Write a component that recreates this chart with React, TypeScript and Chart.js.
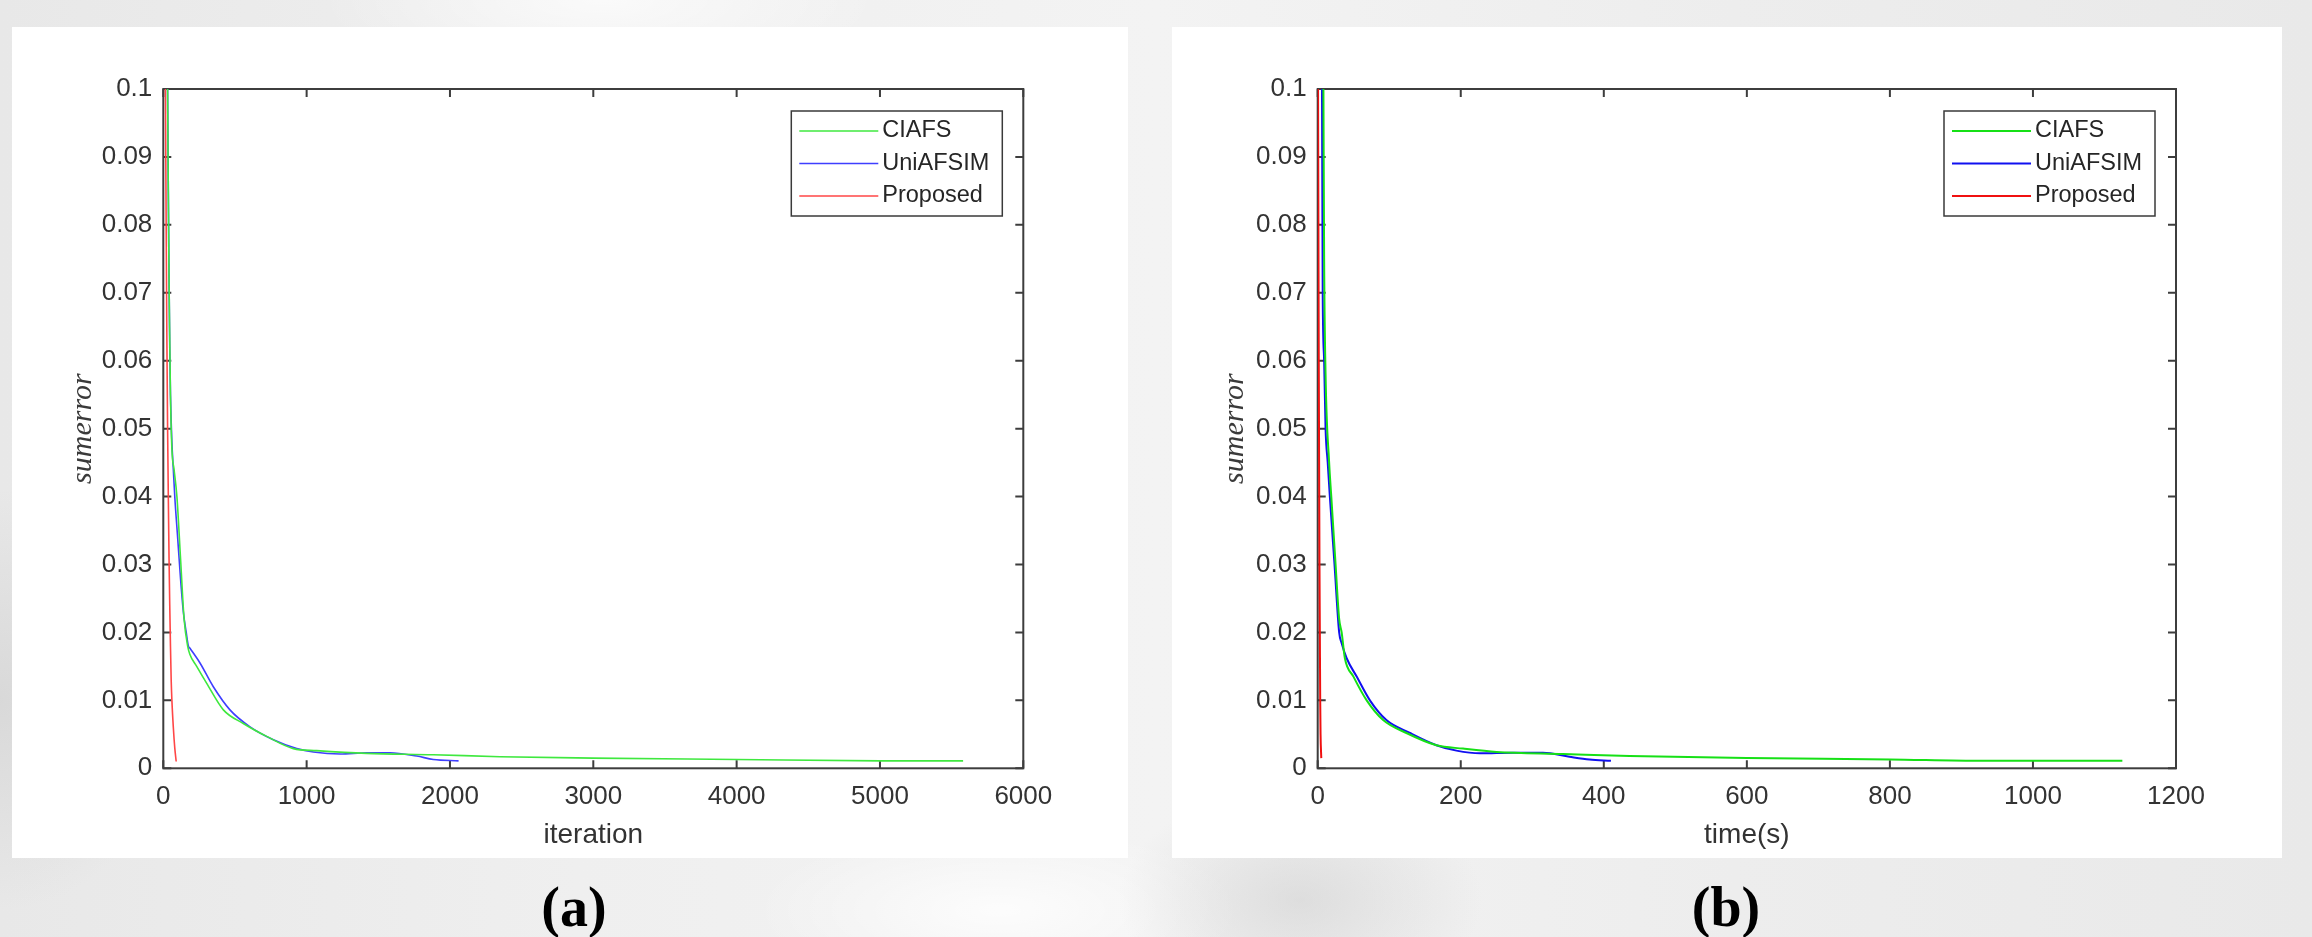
import React, { useEffect, useRef } from 'react';
import { Chart, registerables } from 'chart.js';
Chart.register(...registerables);

// ---------- Panel (a): sum error vs. iteration ----------
const ciafsIterA = [30, 35, 40, 45, 50, 60, 75, 95, 120, 145, 170, 185, 233, 303, 419, 558, 721, 907, 1070, 1419, 1884, 2349, 3000, 4000, 5000, 5580];
const ciafsErrA = [0.1, 0.085, 0.072, 0.063, 0.055, 0.047, 0.044, 0.04, 0.031, 0.022, 0.018, 0.0168, 0.015, 0.0125, 0.0086, 0.0066, 0.0047, 0.0029, 0.0026, 0.0022, 0.002, 0.0017, 0.0015, 0.0013, 0.0011, 0.0011];
const uniIterA = [30, 35, 40, 45, 50, 60, 70, 80, 100, 120, 140, 160, 175, 185, 256, 349, 465, 605, 768, 931, 1047, 1233, 1419, 1582, 1768, 1884, 2060];
const uniErrA = [0.1, 0.085, 0.072, 0.062, 0.055, 0.048, 0.044, 0.04, 0.034, 0.028, 0.023, 0.02, 0.018, 0.0177, 0.0155, 0.012, 0.0086, 0.0061, 0.0042, 0.0029, 0.0024, 0.0021, 0.0023, 0.0023, 0.0018, 0.0013, 0.0011];
const propIterA = [15, 20, 25, 30, 35, 40, 45, 50, 55, 60, 70, 80, 90];
const propErrA = [0.1, 0.08, 0.063, 0.05, 0.04, 0.031, 0.024, 0.018, 0.013, 0.01, 0.006, 0.003, 0.001];
const xMaxA = 6000;
const xStepA = 1000;

// ---------- Panel (b): sum error vs. time(s) ----------
const ciafsTimeB = [8, 9, 11, 16, 19, 25, 30, 33.5, 38, 50, 68.5, 91.5, 124, 166, 203, 250, 343, 436, 600, 800, 930, 1125];
const ciafsErrB = [0.1, 0.075, 0.058, 0.045, 0.04, 0.03, 0.022, 0.02, 0.0162, 0.0135, 0.01, 0.0071, 0.0052, 0.0034, 0.0029, 0.0024, 0.0021, 0.0018, 0.0015, 0.0013, 0.0011, 0.0011];
const uniTimeB = [6, 7, 9, 11, 14, 17, 23.5, 30, 33.5, 40.5, 54.5, 73, 96, 129, 166, 194, 227, 273, 315, 352, 380, 410];
const uniErrB = [0.1, 0.07, 0.06, 0.05, 0.045, 0.04, 0.03, 0.02, 0.0184, 0.0162, 0.0135, 0.01, 0.0071, 0.0052, 0.0034, 0.0026, 0.0022, 0.0023, 0.0023, 0.0017, 0.0013, 0.0011];
const propTimeB = [0.5, 1, 1.5, 2, 2.5, 3, 3.5, 4, 5];
const propErrB = [0.1, 0.08, 0.06, 0.045, 0.03, 0.02, 0.01, 0.005, 0.0015];
const xMaxB = 1200;
const xStepB = 200;

// ---------- shared ----------
const seriesNames = ['CIAFS', 'UniAFSIM', 'Proposed'];
const yTickLabels = ['0', '0.01', '0.02', '0.03', '0.04', '0.05', '0.06', '0.07', '0.08', '0.09', '0.1'];
const yTitle = 'sumerror';
const xTitleA = 'iteration';
const xTitleB = 'time(s)';

const SANS = '"Liberation Sans", Arial, Helvetica, sans-serif';
const SERIF = '"Liberation Serif", "Times New Roman", serif';

const zip = (xs: number[], ys: number[]) => xs.map((x, i) => ({ x, y: ys[i] }));

const matlabFrame = {
  id: 'matlabFrame',
  beforeDatasetsDraw(chart: any, _args: any, opts: any) {
    const { ctx, chartArea } = chart;
    const { left, right, top, bottom } = chartArea;
    const x = chart.scales.x;
    const y = chart.scales.y;
    const L = opts.tickLen;
    ctx.save();
    ctx.strokeStyle = opts.color;
    ctx.lineWidth = opts.width;
    ctx.strokeRect(left, top, right - left, bottom - top);
    ctx.beginPath();
    x.ticks.forEach((t: any) => {
      const px = x.getPixelForValue(t.value);
      ctx.moveTo(px, bottom); ctx.lineTo(px, bottom - L);
      ctx.moveTo(px, top); ctx.lineTo(px, top + L);
    });
    y.ticks.forEach((t: any) => {
      const py = y.getPixelForValue(t.value);
      ctx.moveTo(left, py); ctx.lineTo(left + L, py);
      ctx.moveTo(right, py); ctx.lineTo(right - L, py);
    });
    ctx.stroke();
    ctx.restore();
  },
};

const boxLegend = {
  id: 'boxLegend',
  afterDatasetsDraw(chart: any, _args: any, opts: any) {
    const { ctx, chartArea } = chart;
    const x0 = chartArea.right - opts.right - opts.width;
    const y0 = chartArea.top + opts.top;
    ctx.save();
    ctx.fillStyle = '#ffffff';
    ctx.fillRect(x0, y0, opts.width, opts.height);
    ctx.strokeStyle = '#3a3a3a';
    ctx.lineWidth = 1.5;
    ctx.strokeRect(x0, y0, opts.width, opts.height);
    ctx.font = `${opts.fontSize}px ${SANS}`;
    ctx.textBaseline = 'middle';
    ctx.textAlign = 'left';
    chart.data.datasets.forEach((ds: any, i: number) => {
      const yy = y0 + opts.firstRow + i * opts.rowGap;
      ctx.strokeStyle = ds.borderColor;
      ctx.lineWidth = ds.borderWidth;
      ctx.beginPath();
      ctx.moveTo(x0 + opts.lineStart, yy);
      ctx.lineTo(x0 + opts.lineEnd, yy);
      ctx.stroke();
      ctx.fillStyle = '#262626';
      ctx.fillText(ds.label, x0 + opts.textStart, yy);
    });
    ctx.restore();
  },
};

type PanelSpec = {
  w: number;
  h: number;
  yAxisWidth: number;
  xAxisHeight: number;
  rightPad: number;
  topPad: number;
  yTitlePad: number;
  xMax: number;
  xStep: number;
  xTitle: string;
  colors: string[];
  lineWidth: number;
  data: { x: number; y: number }[][];
};

function makeConfig(p: PanelSpec): any {
  return {
    type: 'line',
    data: {
      datasets: p.data.map((d, i) => ({
        label: seriesNames[i],
        data: d,
        borderColor: p.colors[i],
        borderWidth: p.lineWidth,
        pointRadius: 0,
        fill: false,
        cubicInterpolationMode: 'monotone',
      })),
    },
    options: {
      responsive: false,
      animation: false,
      parsing: true,
      layout: { padding: { left: 0, right: p.rightPad, top: p.topPad, bottom: 0 } },
      plugins: {
        legend: { display: false },
        tooltip: { enabled: false },
        matlabFrame: { color: '#3d3d3d', width: 2, tickLen: 8 },
        boxLegend: {
          right: 21, top: 22, width: 211, height: 105,
          firstRow: 20, rowGap: 32.5, lineStart: 8, lineEnd: 87, textStart: 91, fontSize: 23.5,
        },
      },
      scales: {
        x: {
          type: 'linear',
          min: 0,
          max: p.xMax,
          grid: { display: false, drawTicks: false },
          border: { display: false },
          ticks: {
            stepSize: p.xStep,
            padding: 13,
            color: '#333333',
            font: { family: SANS, size: 26 },
            maxRotation: 0,
            callback: (v: any) => String(v),
          },
          title: {
            display: true,
            text: p.xTitle,
            color: '#333333',
            font: { family: SANS, size: 28 },
            padding: { top: 0, bottom: 6 },
          },
          afterFit: (s: any) => { s.height = p.xAxisHeight; },
        },
        y: {
          type: 'linear',
          min: 0,
          max: 0.1,
          grid: { display: false, drawTicks: false },
          border: { display: false },
          ticks: {
            stepSize: 0.01,
            padding: 11,
            color: '#333333',
            font: { family: SANS, size: 26 },
            callback: (v: any) => yTickLabels[Math.round(Number(v) * 100)],
          },
          title: {
            display: true,
            text: yTitle,
            color: '#3a3a3a',
            font: { family: SERIF, size: 30, style: 'italic' },
            padding: { top: p.yTitlePad, bottom: 0 },
          },
          afterFit: (s: any) => { s.width = p.yAxisWidth; },
        },
      },
    },
    plugins: [matlabFrame, boxLegend],
  };
}

function Panel({ left, top, spec }: { left: number; top: number; spec: PanelSpec }) {
  const ref = useRef<HTMLCanvasElement>(null);
  useEffect(() => {
    const chart = new Chart(ref.current as HTMLCanvasElement, makeConfig(spec));
    return () => chart.destroy();
  }, []);
  return (
    <div style={{ position: 'absolute', left, top, width: spec.w, height: spec.h, background: '#ffffff' }}>
      <canvas ref={ref} width={spec.w} height={spec.h} style={{ display: 'block' }} />
    </div>
  );
}

const specA: PanelSpec = {
  w: 1116, h: 831,
  yAxisWidth: 151.3, xAxisHeight: 89.7, rightPad: 104.7, topPad: 62, yTitlePad: 53,
  xMax: xMaxA, xStep: xStepA, xTitle: xTitleA,
  colors: ['#3fe83f', '#3f3fff', '#ff4646'], lineWidth: 1.6,
  data: [zip(ciafsIterA, ciafsErrA), zip(uniIterA, uniErrA), zip(propIterA, propErrA)],
};

const specB: PanelSpec = {
  w: 1110, h: 831,
  yAxisWidth: 145.7, xAxisHeight: 89.7, rightPad: 106, topPad: 62, yTitlePad: 45,
  xMax: xMaxB, xStep: xStepB, xTitle: xTitleB,
  colors: ['#16e016', '#1010f0', '#f01010'], lineWidth: 2,
  data: [zip(ciafsTimeB, ciafsErrB), zip(uniTimeB, uniErrB), zip(propTimeB, propErrB)],
};

const captionStyle: React.CSSProperties = {
  position: 'absolute',
  top: 879,
  width: 200,
  textAlign: 'center',
  font: `bold 56px ${SERIF}`,
  lineHeight: '56px',
  color: '#000000',
};

export default function App() {
  return (
    <div
      style={{
        position: 'fixed',
        left: 0,
        top: 0,
        width: 2312,
        height: 937,
        overflow: 'hidden',
        background:
          'radial-gradient(ellipse 260px 160px at 1300px 900px, rgba(205,205,205,0.55), rgba(205,205,205,0) 70%),' +
          'radial-gradient(ellipse 250px 300px at 0px 700px, rgba(210,210,210,0.7), rgba(210,210,210,0) 70%),' +
          'radial-gradient(ellipse 350px 120px at 1000px 910px, rgba(255,255,255,0.8), rgba(255,255,255,0) 70%),' +
          'radial-gradient(ellipse 400px 120px at 600px 0px, rgba(255,255,255,0.7), rgba(255,255,255,0) 70%),' +
          'linear-gradient(90deg, #e8e8e8 0%, #efefef 25%, #f3f3f3 50%, #ededed 75%, #e9e9e9 100%)',
      }}
    >
      <Panel left={12} top={27} spec={specA} />
      <Panel left={1172} top={27} spec={specB} />
      <div style={{ ...captionStyle, left: 574 - 100 }}>(a)</div>
      <div style={{ ...captionStyle, left: 1726 - 100 }}>(b)</div>
    </div>
  );
}
